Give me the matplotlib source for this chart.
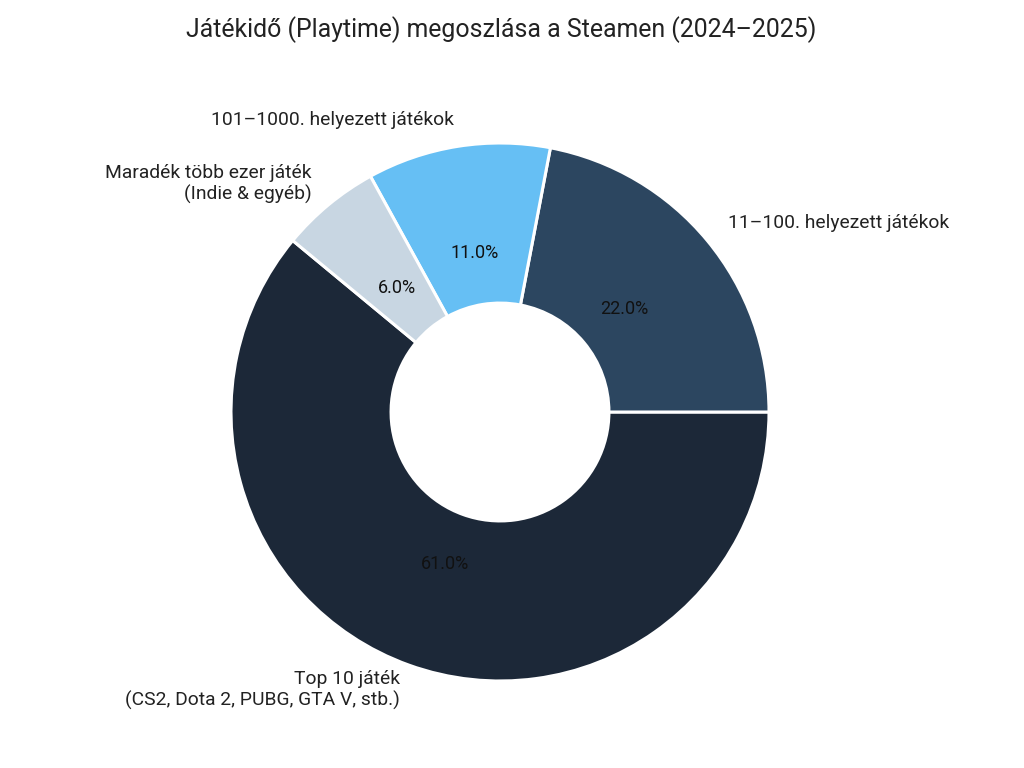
import matplotlib
matplotlib.use("Agg")
import matplotlib.pyplot as plt

plt.rcParams['font.family'] = ['Roboto', 'DejaVu Sans']

# Data
labels = ['Top 10 játék\n(CS2, Dota 2, PUBG, GTA V, stb.)',
          '11–100. helyezett játékok',
          '101–1000. helyezett játékok',
          'Maradék több ezer játék\n(Indie & egyéb)']
shares = [61.0, 22.0, 11.0, 6.0]
colors = ['#1c2838', '#2c4660', '#66bff4', '#c8d6e2']
title = 'Játékidő (Playtime) megoszlása a Steamen (2024–2025)'

fig = plt.figure(figsize=(10.24, 7.68), dpi=100)
ax = fig.add_axes([0, 0, 1, 1])

wedges, texts, autotexts = ax.pie(
    shares, labels=labels, colors=colors, autopct='%1.1f%%',
    startangle=140.4, counterclock=True, pctdistance=0.6, labeldistance=1.1,
    wedgeprops=dict(width=0.595, edgecolor='white', linewidth=2.2),
    textprops=dict(fontsize=13.9, color='#222222'))

for t in autotexts:
    t.set_fontsize(13)
    t.set_color('#111111')

# place the pie: centre at pixel (500, 412), radius 269 px
r_px = 269.0
cx, cy = 500.0, 412.0
ax.set_xlim(-cx / r_px, (1024 - cx) / r_px)
ax.set_ylim(-(768 - cy) / r_px, cy / r_px)
ax.set_aspect('auto')
ax.axis('off')

fig.text(501 / 1024, 1 - 30 / 768, title, ha='center', va='center', fontsize=17.9, color='#222222')

fig.savefig('out.png', dpi=100)
